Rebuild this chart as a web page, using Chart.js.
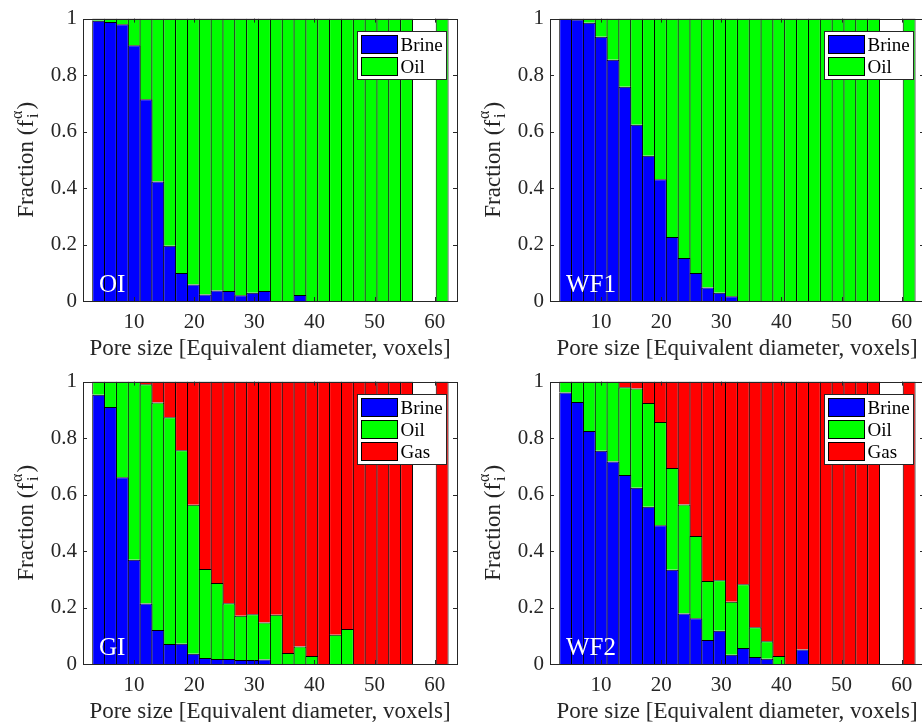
<!DOCTYPE html>
<html>
<head>
<meta charset="utf-8">
<script src="https://cdn.jsdelivr.net/npm/chart.js@4/dist/chart.umd.min.js"></script>
<style>
html,body{margin:0;padding:0;background:#fff;overflow:hidden;width:922px;height:722px}
canvas{position:absolute}
</style>
</head>
<body>
<canvas id="cOI" width="461" height="361" style="left:0;top:0"></canvas>
<canvas id="cWF1" width="461" height="361" style="left:467px;top:0"></canvas>
<canvas id="cGI" width="461" height="361" style="left:0;top:363px"></canvas>
<canvas id="cWF2" width="461" height="361" style="left:467px;top:363px"></canvas>
<script>
/* ===== DATA ===== */
const poreSize=[4.10,6.07,8.04,10.01,11.98,13.95,15.92,17.89,19.86,21.83,23.80,25.77,27.74,29.71,31.68,
  33.65,35.62,37.59,39.56,41.53,43.50,45.47,47.44,49.41,51.38,53.35,55.32,57.29,59.26,61.23];
const xTicks=[10,20,30,40,50,60];
const xTitle="Pore size [Equivalent diameter, voxels]";

const oiBrine=[0.992,0.988,0.980,0.906,0.714,0.423,0.196,0.099,0.058,0.023,0.037,0.035,0.020,0.029,0.035,
  0,0,0.021,0,0,0,0,0,0,0,0,0,null,null,0];
const oiOil=[0.008,0.012,0.020,0.094,0.286,0.577,0.804,0.901,0.942,0.977,0.963,0.965,0.980,0.971,0.965,
  1,1,0.979,1,1,1,1,1,1,1,1,1,null,null,1];

const wf1Brine=[1,0.997,0.985,0.936,0.854,0.759,0.624,0.514,0.431,0.227,0.152,0.099,0.048,0.029,0.017,
  0,0,0,0,0,0,0,0,0,0,0,0,null,null,0];
const wf1Oil=[0,0.003,0.015,0.064,0.146,0.241,0.376,0.486,0.569,0.773,0.848,0.901,0.952,0.971,0.983,
  1,1,1,1,1,1,1,1,1,1,1,1,null,null,1];

const giBrine=[0.953,0.910,0.661,0.369,0.214,0.120,0.071,0.072,0.036,0.021,0.018,0.018,0.014,0.014,0.016,
  0,0,0,0,0,0,0,0,0,0,0,0,null,null,0];
const giOil=[0.047,0.090,0.339,0.631,0.777,0.806,0.803,0.685,0.528,0.315,0.269,0.197,0.157,0.162,0.131,
  0.174,0.039,0.062,0.028,0,0.104,0.124,0,0,0,0,0,null,null,0];
const giGas=[0,0,0,0,0.009,0.074,0.126,0.243,0.436,0.664,0.713,0.785,0.829,0.824,0.853,
  0.826,0.961,0.938,0.972,1,0.896,0.876,1,1,1,1,1,null,null,1];

const wf2Brine=[0.961,0.928,0.825,0.755,0.717,0.669,0.624,0.557,0.491,0.334,0.179,0.162,0.085,0.118,0.033,
  0.057,0.025,0.019,0,0,0.051,0,0,0,0,0,0,null,null,0];
const wf2Oil=[0.039,0.072,0.175,0.245,0.283,0.311,0.352,0.367,0.366,0.360,0.386,0.291,0.209,0.179,0.187,
  0.225,0.105,0.062,0.028,0,0,0,0,0,0,0,0,null,null,0];
const wf2Gas=[0,0,0,0,0,0.020,0.024,0.076,0.143,0.306,0.435,0.547,0.706,0.703,0.780,
  0.718,0.870,0.919,0.972,1,0.949,1,1,1,1,1,1,null,null,1];

/* ===== STYLE ===== */
const FONT="'Liberation Serif','Times New Roman',serif";
const INK="#262626";
const COL={Brine:"#0000ff",Oil:"#00ff00",Gas:"#ff0000"};

function pts(v){return poreSize.map((x,i)=>({x,y:v[i]}))}

/* ===== FRAME, LEGEND, LABELS ===== */
const frame={
  id:"frame",
  afterDatasetsDraw(c,a,o){
    const ctx=c.ctx,{left:l,right:r,top:t,bottom:b}=c.chartArea;
    const xs=c.scales.x,ys=c.scales.y;
    ctx.save();
    ctx.strokeStyle=INK;ctx.lineWidth=1;
    ctx.beginPath();
    xTicks.forEach(v=>{
      const p=Math.round(xs.getPixelForValue(v))+.5;
      ctx.moveTo(p,b);ctx.lineTo(p,b-4);ctx.moveTo(p,t);ctx.lineTo(p,t+4);
    });
    ys.ticks.forEach(k=>{
      const p=Math.round(ys.getPixelForValue(k.value))+.5;
      ctx.moveTo(l,p);ctx.lineTo(l+4,p);ctx.moveTo(r,p);ctx.lineTo(r-4,p);
    });
    ctx.stroke();
    ctx.strokeRect(Math.round(l)+.5,Math.round(t)+.5,Math.round(r-l),Math.round(b-t));

    // panel tag
    ctx.fillStyle="#fff";ctx.font="25px "+FONT;ctx.textAlign="left";ctx.textBaseline="alphabetic";
    ctx.fillText(o.tag,l+16,b-9);

    // legend
    const ds=c.data.datasets;
    const bx=Math.round(r-100)+.5,by=Math.round(t+12)+.5,bh=4+ds.length*22;
    ctx.fillStyle="#fff";ctx.fillRect(bx,by,89,bh);
    ctx.strokeStyle=INK;ctx.strokeRect(bx,by,89,bh);
    ctx.font="19px "+FONT;
    ds.forEach((d,i)=>{
      const py=by+4+i*22;
      ctx.fillStyle=d.backgroundColor;ctx.fillRect(bx+4,py,36,18);
      ctx.strokeStyle="#000";ctx.strokeRect(bx+4,py,36,18);
      ctx.fillStyle="#000";ctx.fillText(d.label,bx+43,py+15.5);
    });

    // x title
    ctx.fillStyle=INK;ctx.font="23px "+FONT;ctx.textAlign="center";
    ctx.fillText(xTitle,(l+r)/2,b+53.5);

    // y title: Fraction (f_i^alpha)
    ctx.translate(l-50,(t+b)/2);ctx.rotate(-Math.PI/2);
    ctx.textAlign="left";
    const main="Fraction (f",big="23px "+FONT,small="16px "+FONT;
    ctx.font=big;const w1=ctx.measureText(main).width,w3=ctx.measureText(")").width;
    ctx.font=small;const w2=Math.max(ctx.measureText("\u03b1").width,ctx.measureText("i").width);
    const x0=-(w1+w2+2+w3)/2;
    ctx.font=big;ctx.fillText(main,x0,0);
    ctx.font=small;ctx.fillText("\u03b1",x0+w1+1,-11);ctx.fillText("i",x0+w1+2,5);
    ctx.font=big;ctx.fillText(")",x0+w1+w2+2,0);
    ctx.restore();
  }
};

/* ===== CHARTS ===== */
function makeChart(id,tag,series){
  return new Chart(document.getElementById(id),{
    type:"bar",
    data:{datasets:series.map(([label,v])=>({
      label,data:pts(v),backgroundColor:COL[label],borderColor:"#000",
      borderWidth:{top:1,left:1,right:1,bottom:0},borderSkipped:false,
      barPercentage:1.085,categoryPercentage:1
    }))},
    options:{
      responsive:false,animation:false,
      layout:{padding:{top:15,right:4,left:0,bottom:0}},
      plugins:{legend:{display:false},tooltip:{enabled:false},frame:{tag}},
      scales:{
        x:{type:"linear",stacked:true,min:1.5,max:63.7,offset:false,
          grid:{display:false,drawTicks:false},border:{display:false},
          afterBuildTicks:s=>{s.ticks=xTicks.map(value=>({value}))},
          afterFit:s=>{s.height=60},
          ticks:{padding:9,color:INK,autoSkip:false,maxRotation:0,font:{family:FONT,size:21},callback:v=>v}},
        y:{min:0,max:1,stacked:true,
          grid:{display:false,drawTicks:false},border:{display:false},
          afterFit:s=>{s.width=83},
          ticks:{stepSize:0.2,padding:6,color:INK,font:{family:FONT,size:21},callback:v=>String(+v.toFixed(1))}}
      }
    },
    plugins:[frame]
  });
}

makeChart("cOI","OI",[["Brine",oiBrine],["Oil",oiOil]]);
makeChart("cWF1","WF1",[["Brine",wf1Brine],["Oil",wf1Oil]]);
makeChart("cGI","GI",[["Brine",giBrine],["Oil",giOil],["Gas",giGas]]);
makeChart("cWF2","WF2",[["Brine",wf2Brine],["Oil",wf2Oil],["Gas",wf2Gas]]);
</script>
</body>
</html>
